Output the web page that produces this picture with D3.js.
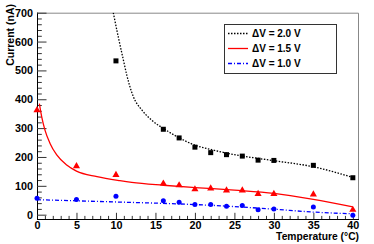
<!DOCTYPE html>
<html>
<head>
<meta charset="utf-8">
<script src="https://cdn.jsdelivr.net/npm/d3@7"></script>
<style>
  body { margin: 0; background: #fff; }
  text { font-family: "Liberation Sans", Arial, sans-serif; font-weight: bold; }
</style>
</head>
<body>
<svg id="chart" width="374" height="244"></svg>
<script>
// measured points
var temps = [0, 5, 10, 16, 18, 20, 22, 24, 26, 28, 30, 35, 40]
var temps20 = [10, 16, 18, 20, 22, 24, 26, 28, 30, 35, 40]
var dv20 = [533, 296, 266, 234, 215, 208, 203, 189, 188, 171, 128]
var dv15 = [362, 168, 138, 108, 102, 88, 91, 84, 84, 72, 72, 70, 17]
var dv10 = [57, 53, 64, 48, 43, 35, 35, 29, 32, 17, 20, 27, -2]

// fit curves
var fit20T = [9.66, 10.3, 10.94, 11.37, 11.7, 12.2, 13.27, 14.5, 16, 17.9, 20, 22, 25, 28, 30, 35, 40]
var fit20I = [700, 615, 536, 484, 450, 409, 363, 328, 299, 268, 241, 226, 208, 195, 187, 166, 129]
var fit15T = [0.3, 0.59, 1.01, 1.65, 2.5, 3.76, 5, 7.6, 10.5, 12, 16, 20, 25, 30, 35, 40]
var fit15I = [385, 340, 293, 247, 207, 172, 151, 132, 118, 112, 102, 94, 85, 74, 53, 27]
var fit10T = [0, 5, 10, 15, 20, 25, 30, 35, 40]
var fit10I = [52, 48, 44, 40, 35, 28, 19, 9, 3]

var xTicks = [0, 5, 10, 15, 20, 25, 30, 35, 40]
var yTicks = [0, 100, 200, 300, 400, 500, 600, 700]
var legendLabels = ["\u0394V = 2.0 V", "\u0394V = 1.5 V", "\u0394V = 1.0 V"]

var margin = {top: 12.7, right: 15, bottom: 25, left: 37}
var width = 374 - margin.left - margin.right
var height = 244 - margin.top - margin.bottom

var x = d3.scaleLinear().domain([0, 40.78]).range([0, width])
var y = d3.scaleLinear().domain([-15, 700]).range([height, 0])

var svg = d3.select("#chart")
var chart = svg.append("g").attr("transform", `translate(${margin.left},${margin.top})`)

chart.append("clipPath").attr("id", "clip")
  .append("rect").attr("width", width).attr("height", height)

// frame top/right
chart.append("path")
  .attr("d", `M0,0.5H${width - 0.5}V${height}`)
  .attr("fill", "none").attr("stroke", "#888").attr("stroke-width", 1)

// minor ticks
var xMinor = d3.range(0, 41, 1).filter(v => v % 5 != 0)
var yMinor = d3.range(0, 701, 20).filter(v => v % 100 != 0)

chart.append("g")
  .attr("transform", `translate(0,${height})`)
  .call(d3.axisBottom(x).tickValues(xMinor).tickSize(-3.1).tickFormat(""))
  .call(g => g.select(".domain").remove())
chart.append("g")
  .attr("class", "xaxis")
  .attr("transform", `translate(0,${height})`)
  .call(d3.axisBottom(x).tickValues(xTicks).tickSize(-6.2).tickPadding(2.5))
  .call(g => g.select(".domain").attr("d", `M0,0.5H${width}`))

chart.append("g")
  .call(d3.axisLeft(y).tickValues(yMinor).tickSize(-4.8).tickFormat(""))
  .call(g => g.select(".domain").remove())
chart.append("g")
  .attr("class", "yaxis")
  .call(d3.axisLeft(y).tickValues(yTicks).tickSize(-9.5).tickPadding(4))
  .call(g => g.select(".domain").attr("d", `M0.5,0V${height}`))

chart.selectAll(".tick line").attr("stroke", "#333")
chart.selectAll(".domain").attr("stroke", "#000")
chart.selectAll(".tick text")
  .attr("font-size", 10.8).attr("fill", "#000")
  .style("font-family", "'Liberation Sans', Arial, sans-serif").style("font-weight", "bold")
chart.selectAll(".yaxis .tick text").attr("x", -4)

// axis titles
chart.append("text")
  .attr("x", width).attr("y", height + 21)
  .attr("text-anchor", "end").attr("font-size", 10.3)
  .text("Temperature (\u00B0C)")
chart.append("text")
  .attr("transform", `translate(${13.5 - margin.left},${4 - margin.top}) rotate(-90)`)
  .attr("text-anchor", "end").attr("font-size", 10.5)
  .text("Current (nA)")

// fit lines
var line = d3.line().x(d => x(d[0])).y(d => y(d[1])).curve(d3.curveMonotoneX)
var curves = chart.append("g").attr("clip-path", "url(#clip)")
curves.append("path").datum(d3.zip(fit20T, fit20I))
  .attr("d", line).attr("fill", "none").attr("stroke", "#000")
  .attr("stroke-width", 1.3).attr("stroke-dasharray", "1.5,1.5")
curves.append("path").datum(d3.zip(fit15T, fit15I))
  .attr("d", line).attr("fill", "none").attr("stroke", "#ff0000").attr("stroke-width", 1.3)
curves.append("path").datum(d3.zip(fit10T, fit10I))
  .attr("d", line).attr("fill", "none").attr("stroke", "#0000ff")
  .attr("stroke-width", 1.3).attr("stroke-dasharray", "4,2,1,2")

// markers
chart.append("g").selectAll("rect")
  .data(d3.zip(temps20, dv20))
  .join("rect")
    .attr("x", d => x(d[0]) - 2.5).attr("y", d => y(d[1]) - 2.5)
    .attr("width", 5).attr("height", 5).attr("fill", "#000")
chart.append("g").selectAll("path")
  .data(d3.zip(temps, dv15))
  .join("path")
    .attr("transform", d => `translate(${x(d[0])},${y(d[1])})`)
    .attr("d", d3.symbol(d3.symbolTriangle, 22))
    .attr("fill", "#ff0000")
chart.append("g").selectAll("circle")
  .data(d3.zip(temps, dv10))
  .join("circle")
    .attr("cx", d => x(d[0])).attr("cy", d => y(d[1]))
    .attr("r", 2.5).attr("fill", "#0000ff")

// legend
var legend = svg.append("g").attr("transform", "translate(224,24)")
legend.append("rect")
  .attr("x", 0.5).attr("y", 0.5).attr("width", 112).attr("height", 49)
  .attr("fill", "#fff").attr("stroke", "#333")
var styles = [
  {stroke: "#000", dash: "1.5,1.5"},
  {stroke: "#ff0000", dash: null},
  {stroke: "#0000ff", dash: "4,2,1,2"}
]
legendLabels.forEach((lab, i) => {
  var yy = 9.5 + i * 15
  legend.append("line")
    .attr("x1", 4).attr("x2", 24).attr("y1", yy).attr("y2", yy)
    .attr("stroke", styles[i].stroke).attr("stroke-width", 1.3)
    .attr("stroke-dasharray", styles[i].dash)
  legend.append("text")
    .attr("x", 28).attr("y", yy + 3.6).attr("font-size", 10)
    .text(lab)
})
</script>
</body>
</html>
